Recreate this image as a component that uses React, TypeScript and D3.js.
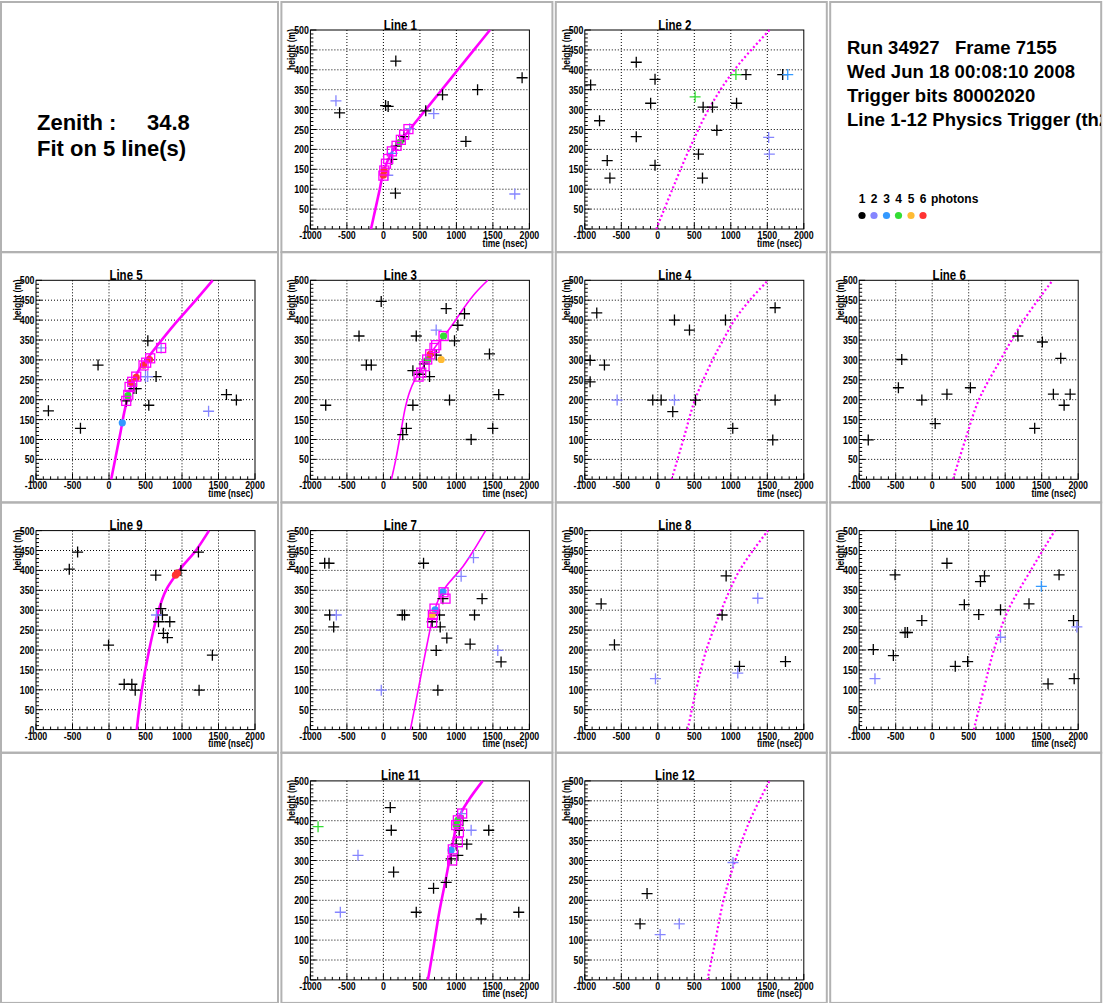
import React from 'react';
import * as d3 from 'd3';

type P = [number, number];
type Hit = [number, number, number];

const FONT = "'Liberation Sans', Arial, Helvetica, sans-serif";
const MAGENTA = '#ff00ff';
const PHOTON_COLORS = ['#000000', '#8585ff', '#3399ff', '#33dd33', '#ffbb33', '#ff3333'];
const PHOTON_LABELS = ['1', '2', '3', '4', '5', '6'];
const X_TICKS = [-1000, -500, 0, 500, 1000, 1500, 2000];
const Y_TICKS = [0, 50, 100, 150, 200, 250, 300, 350, 400, 450, 500];
const INFO_LINES = ['Run 34927   Frame 7155', 'Wed Jun 18 00:08:10 2008', 'Trigger bits 80002020', 'Line 1-12 Physics Trigger (th2'];
const ZENITH_LABEL = 'Zenith :';
const ZENITH_VALUE = '34.8';
const FIT_LABEL = 'Fit on 5 line(s)';

// ---- Line 1 ----
const line1Curve: P[] = [[-170, 0], [-110, 50], [-50, 100], [-5, 140], [55, 170], [140, 200], [250, 225], [360, 250], [470, 275], [580, 300], [800, 350], [1020, 400], [1240, 450], [1460, 500]];
const line1Hits: Hit[] = [[170, 422, 1], [-600, 292, 1], [30, 310, 1], [65, 308, 1], [580, 297, 1], [810, 337, 1], [1290, 350, 1], [1900, 380, 1], [1130, 220, 1], [165, 90, 1], [115, 175, 1], [175, 208, 1], [280, 232, 1], [-650, 322, 2], [690, 290, 2], [1800, 88, 2], [60, 135, 2], [360, 252, 2], [120, 190, 3]];
const line1Dots: Hit[] = [[0, 135, 6], [10, 147, 6], [225, 218, 4]];
const line1Squares: P[] = [[0, 134], [12, 147], [35, 164], [66, 176], [116, 195], [180, 209], [239, 224], [284, 237], [343, 251]];

// ---- Line 2 ----
const line2Curve: P[] = [[-20, 0], [200, 100], [430, 200], [695, 300], [1050, 400], [1530, 500]];
const line2Hits: Hit[] = [[-920, 362, 1], [-798, 272, 1], [-693, 172, 1], [-656, 128, 1], [-295, 419, 1], [-295, 232, 1], [-98, 316, 1], [-38, 376, 1], [-38, 160, 1], [557, 188, 1], [621, 306, 1], [749, 306, 1], [612, 128, 1], [809, 248, 1], [1079, 316, 1], [1208, 388, 1], [1711, 388, 1], [1519, 230, 2], [1528, 188, 2], [1780, 388, 3], [511, 332, 4], [1070, 388, 4]];

// ---- Line 3 ----
const line3Curve: P[] = [[110, 0], [170, 50], [240, 120], [300, 180], [360, 220], [430, 250], [520, 275], [600, 300], [700, 330], [830, 360], [960, 392], [1100, 430], [1260, 468], [1430, 500]];
const line3Hits: Hit[] = [[-30, 447, 1], [-334, 360, 1], [-234, 287, 1], [-166, 287, 1], [-790, 186, 1], [404, 186, 1], [450, 360, 1], [265, 112, 1], [315, 128, 1], [404, 273, 1], [495, 264, 1], [632, 258, 1], [860, 429, 1], [1111, 416, 1], [1020, 387, 1], [974, 348, 1], [906, 199, 1], [723, 312, 1], [1453, 315, 1], [1580, 213, 1], [1498, 128, 1], [1202, 100, 1], [560, 290, 1], [723, 375, 2]];
const line3Dots: Hit[] = [[609, 301, 4], [824, 360, 4], [641, 314, 6], [792, 301, 5]];
const line3Squares: P[] = [[482, 258], [518, 268], [564, 284], [600, 301], [641, 314], [700, 330], [723, 337], [824, 360]];

// ---- Line 4 ----
const line4Curve: P[] = [[190, 0], [350, 100], [510, 200], [750, 300], [895, 350], [1050, 400], [1260, 450], [1510, 500]];
const line4Hits: Hit[] = [[-836, 418, 1], [-927, 299, 1], [-927, 245, 1], [-731, 287, 1], [-69, 199, 1], [46, 199, 1], [205, 170, 1], [228, 400, 1], [434, 375, 1], [516, 199, 1], [927, 400, 1], [1027, 128, 1], [1607, 431, 1], [1607, 199, 1], [1575, 99, 1], [-557, 199, 2], [228, 199, 2]];

// ---- Line 5 ----
const line5Curve: P[] = [[30, 0], [95, 60], [160, 120], [205, 165], [250, 200], [320, 242], [420, 278], [530, 305], [700, 345], [900, 390], [1150, 442], [1420, 500]];
const line5Hits: Hit[] = [[-830, 172, 1], [-391, 128, 1], [-150, 287, 1], [532, 348, 1], [545, 186, 1], [236, 197, 1], [373, 228, 1], [340, 228, 1], [645, 258, 1], [1609, 213, 1], [1745, 199, 1], [500, 258, 2], [530, 258, 2], [1364, 171, 2], [714, 330, 2]];
const line5Dots: Hit[] = [[182, 142, 3], [259, 210, 4], [305, 243, 6], [373, 256, 6], [473, 287, 6], [555, 301, 6]];
const line5Squares: P[] = [[236, 197], [264, 212], [282, 232], [318, 245], [373, 258], [473, 286], [509, 293], [564, 304], [714, 330]];

// ---- Line 6 ----
const line6Curve: P[] = [[285, 0], [455, 100], [640, 200], [935, 300], [1255, 400], [1650, 500]];
const line6Hits: Hit[] = [[-876, 99, 1], [-463, 230, 1], [-417, 301, 1], [-142, 199, 1], [41, 140, 1], [202, 214, 1], [523, 230, 1], [1174, 360, 1], [1509, 345, 1], [1761, 304, 1], [1660, 214, 1], [1807, 186, 1], [1890, 214, 1], [1404, 128, 1]];

// ---- Line 7 ----
const line7Curve: P[] = [[370, 0], [450, 75], [540, 160], [610, 225], [680, 285], [750, 325], [860, 360], [975, 385], [1090, 410], [1225, 447], [1400, 500]];
const line7Hits: Hit[] = [[-804, 418, 1], [-745, 418, 1], [-736, 288, 1], [-681, 258, 1], [258, 288, 1], [290, 288, 1], [550, 418, 1], [668, 271, 1], [769, 288, 1], [778, 258, 1], [723, 199, 1], [869, 230, 1], [746, 99, 1], [815, 329, 1], [1188, 215, 1], [1248, 288, 1], [1352, 329, 1], [1612, 170, 1], [-645, 288, 2], [-29, 99, 2], [1065, 385, 2], [1234, 432, 2], [1567, 199, 2]];
const line7Dots: Hit[] = [[709, 301, 3], [815, 346, 3], [668, 288, 5]];
const line7Squares: P[] = [[668, 268], [678, 288], [700, 304], [824, 345], [851, 329]];

// ---- Line 8 ----
const line8Curve: P[] = [[410, 0], [525, 100], [665, 200], [870, 300], [1120, 400], [1510, 500]];
const line8Hits: Hit[] = [[-776, 316, 1], [-594, 213, 1], [936, 386, 1], [881, 288, 1], [1119, 159, 1], [1749, 171, 1], [-32, 128, 2], [1096, 142, 2], [1370, 330, 2]];

// ---- Line 9 ----
const line9Curve: P[] = [[380, 0], [450, 100], [550, 200], [680, 300], [780, 350], [915, 388], [1005, 410], [1190, 450], [1370, 500]];
const line9Hits: Hit[] = [[-544, 403, 1], [-430, 446, 1], [-6, 212, 1], [208, 114, 1], [313, 114, 1], [359, 99, 1], [641, 388, 1], [710, 304, 1], [732, 288, 1], [678, 271, 1], [833, 271, 1], [746, 242, 1], [801, 231, 1], [1416, 187, 1], [1234, 99, 1], [1225, 446, 1], [985, 400, 1], [650, 288, 2]];
const line9Dots: Hit[] = [[910, 388, 6], [935, 393, 6]];

// ---- Line 10 ----
const line10Curve: P[] = [[570, 0], [705, 100], [845, 200], [1040, 300], [1350, 400], [1680, 500]];
const line10Hits: Hit[] = [[-807, 201, 1], [-532, 186, 1], [-509, 389, 1], [-372, 244, 1], [-339, 244, 1], [-142, 274, 1], [202, 418, 1], [316, 159, 1], [440, 314, 1], [486, 171, 1], [638, 289, 1], [661, 372, 1], [716, 386, 1], [936, 301, 1], [1326, 316, 1], [1587, 115, 1], [1738, 389, 1], [1936, 274, 1], [1945, 128, 1], [-784, 128, 2], [936, 232, 2], [1982, 258, 2], [1495, 360, 3]];

// ---- Line 11 ----
const line11Curve: P[] = [[610, 0], [680, 75], [770, 175], [860, 258], [930, 325], [1000, 385], [1065, 420], [1180, 455], [1360, 500]];
const line11Hits: Hit[] = [[94, 433, 1], [108, 376, 1], [140, 271, 1], [450, 170, 1], [687, 230, 1], [860, 245, 1], [928, 304, 1], [1020, 313, 1], [997, 341, 1], [1143, 341, 1], [1038, 376, 1], [1443, 376, 1], [1339, 153, 1], [1854, 170, 1], [1088, 400, 1], [-348, 313, 2], [-590, 170, 2], [1202, 376, 2], [1070, 418, 2], [-895, 385, 4]];
const line11Dots: Hit[] = [[928, 326, 3], [997, 389, 4], [1020, 401, 4]];
const line11Squares: P[] = [[942, 300], [951, 328], [1020, 346], [1034, 371], [997, 389], [1020, 401], [1079, 418]];

// ---- Line 12 ----
const line12Curve: P[] = [[680, 0], [790, 100], [900, 200], [1060, 300], [1260, 400], [1530, 500]];
const line12Hits: Hit[] = [[-147, 217, 1], [-243, 141, 1], [32, 114, 2], [294, 141, 2], [1030, 295, 2]];

type Style = 'thick' | 'thin' | 'dotted';
interface PanelDef { title: string; col: number; row: number; curve: P[]; style: Style; hits: Hit[]; dots: Hit[]; squares: P[]; }

const PANELS: PanelDef[] = [
  { title: 'Line 1', col: 1, row: 0, curve: line1Curve, style: 'thick', hits: line1Hits, dots: line1Dots, squares: line1Squares },
  { title: 'Line 2', col: 2, row: 0, curve: line2Curve, style: 'dotted', hits: line2Hits, dots: [], squares: [] },
  { title: 'Line 5', col: 0, row: 1, curve: line5Curve, style: 'thick', hits: line5Hits, dots: line5Dots, squares: line5Squares },
  { title: 'Line 3', col: 1, row: 1, curve: line3Curve, style: 'thin', hits: line3Hits, dots: line3Dots, squares: line3Squares },
  { title: 'Line 4', col: 2, row: 1, curve: line4Curve, style: 'dotted', hits: line4Hits, dots: [], squares: [] },
  { title: 'Line 6', col: 3, row: 1, curve: line6Curve, style: 'dotted', hits: line6Hits, dots: [], squares: [] },
  { title: 'Line 9', col: 0, row: 2, curve: line9Curve, style: 'thick', hits: line9Hits, dots: line9Dots, squares: [] },
  { title: 'Line 7', col: 1, row: 2, curve: line7Curve, style: 'thin', hits: line7Hits, dots: line7Dots, squares: line7Squares },
  { title: 'Line 8', col: 2, row: 2, curve: line8Curve, style: 'dotted', hits: line8Hits, dots: [], squares: [] },
  { title: 'Line 10', col: 3, row: 2, curve: line10Curve, style: 'dotted', hits: line10Hits, dots: [], squares: [] },
  { title: 'Line 11', col: 1, row: 3, curve: line11Curve, style: 'thick', hits: line11Hits, dots: line11Dots, squares: line11Squares },
  { title: 'Line 12', col: 2, row: 3, curve: line12Curve, style: 'dotted', hits: line12Hits, dots: [], squares: [] },
];

const FW = 219;
const FH = 199;
const frameLeft = (col: number) => 36 + 274.4 * col;
const frameTop = (row: number) => 30 + 250.3 * row;

function PadBorder({ col, row }: { col: number; row: number }) {
  const fl = frameLeft(col);
  const ft = frameTop(row);
  const left = col === 0 ? 1 : fl - 29;
  const right = fl + FW + 23;
  const top = ft - 28;
  const bottom = ft + FH + 23;
  return <rect x={left} y={top} width={right - left} height={bottom - top} fill="none" stroke="#b2b2b2" strokeWidth={2} />;
}

function Panel({ p }: { p: PanelDef }) {
  const fl = frameLeft(p.col);
  const ft = frameTop(p.row);
  const x = d3.scaleLinear().domain([-1000, 2000]).range([fl, fl + FW]);
  const y = d3.scaleLinear().domain([0, 500]).range([ft + FH, ft]);
  const line = d3.line<P>().x(d => x(d[0])).y(d => y(d[1])).curve(d3.curveCatmullRom.alpha(0.5));
  const xMinor = d3.range(-1000, 2001, 100);
  const yMinor = d3.range(0, 501, 10);
  const sx = 0.8;
  let curveProps: any = { stroke: MAGENTA, fill: 'none' };
  if (p.style === 'thick') curveProps = { ...curveProps, strokeWidth: 2.6 };
  else if (p.style === 'thin') curveProps = { ...curveProps, strokeWidth: 1.6 };
  else curveProps = { ...curveProps, strokeWidth: 2.2, strokeDasharray: '2 2.4' };
  return (
    <g>
      {/* grid */}
      {X_TICKS.slice(1, -1).map(t => (
        <line key={'gx' + t} x1={x(t)} x2={x(t)} y1={ft} y2={ft + FH} stroke="#000" strokeWidth={1} strokeDasharray="1 2" />
      ))}
      {Y_TICKS.slice(1, -1).map(t => (
        <line key={'gy' + t} x1={fl} x2={fl + FW} y1={y(t)} y2={y(t)} stroke="#000" strokeWidth={1} strokeDasharray="1 2" />
      ))}
      {/* ticks */}
      {xMinor.map(t => (
        <line key={'tx' + t} x1={x(t)} x2={x(t)} y1={ft + FH} y2={ft + FH - (t % 500 === 0 ? 6 : 3)} stroke="#000" strokeWidth={1} />
      ))}
      {yMinor.map(t => (
        <line key={'ty' + t} x1={fl} x2={fl + (t % 50 === 0 ? 6 : 3)} y1={y(t)} y2={y(t)} stroke="#000" strokeWidth={1} />
      ))}
      {/* frame */}
      <rect x={fl} y={ft} width={FW} height={FH} fill="none" stroke="#000" strokeWidth={1} />
      {/* tick labels */}
      {X_TICKS.map(t => (
        <text key={'lx' + t} transform={`translate(${x(t)},${ft + FH + 10}) scale(${sx},1)`} textAnchor="middle" fontSize={11} fontWeight="bold" fontFamily={FONT}>{t}</text>
      ))}
      {Y_TICKS.map(t => (
        <text key={'ly' + t} transform={`translate(${fl - 1.5},${y(t) + 4}) scale(${sx},1)`} textAnchor="end" fontSize={11} fontWeight="bold" fontFamily={FONT}>{t}</text>
      ))}
      <text transform={`translate(${fl + FW - 2},${ft + FH + 17.5}) scale(0.85,1)`} textAnchor="end" fontSize={10} fontWeight="bold" fontFamily={FONT}>time (nsec)</text>
      <text transform={`translate(${fl - 15},${ft - 1}) rotate(-90) scale(0.85,1)`} textAnchor="end" fontSize={10} fontWeight="bold" fontFamily={FONT}>height (m)</text>
      <text transform={`translate(${fl + 90},${ft - 0.5}) scale(0.82,1)`} textAnchor="middle" fontSize={14} fontWeight="bold" fontFamily={FONT}>{p.title}</text>
      {/* fit curve */}
      <path d={line(p.curve) || ''} {...curveProps} />
      {/* hits */}
      {p.hits.map((h, i) => {
        const cx = x(h[0]);
        const cy = y(h[1]);
        return <path key={'h' + i} d={`M${cx - 5.5},${cy}H${cx + 5.5}M${cx},${cy - 5.5}V${cy + 5.5}`} stroke={PHOTON_COLORS[h[2] - 1]} strokeWidth={1.3} fill="none" />;
      })}
      {p.dots.map((h, i) => (
        <circle key={'d' + i} cx={x(h[0])} cy={y(h[1])} r={3.6} fill={PHOTON_COLORS[h[2] - 1]} />
      ))}
      {p.squares.map((s, i) => (
        <rect key={'s' + i} x={x(s[0]) - 4.5} y={y(s[1]) - 4.5} width={9} height={9} fill="none" stroke={MAGENTA} strokeWidth={1.3} />
      ))}
    </g>
  );
}

export default function App() {
  const pads: [number, number][] = [];
  for (let r = 0; r < 4; r++) for (let c = 0; c < 4; c++) pads.push([c, r]);
  const legendX = [862, 874, 886.5, 898.5, 911, 923];
  return (
    <svg width={1109} height={1003} style={{ display: 'block', position: 'absolute', left: 0, top: 0, background: '#fff' }}>
      <defs>
        <clipPath id="infoClip"><rect x={832} y={0} width={269} height={250} /></clipPath>
      </defs>
      <rect x={0} y={0} width={1109} height={1003} fill="#fff" />
      {pads.map(([c, r]) => <PadBorder key={`pad${c}-${r}`} col={c} row={r} />)}
      {PANELS.map(p => <Panel key={p.title} p={p} />)}
      {/* zenith pad */}
      <g fontFamily={FONT} fontWeight="bold" fontSize={22}>
        <text x={37} y={130}>{ZENITH_LABEL}</text>
        <text x={147} y={130}>{ZENITH_VALUE}</text>
        <text x={37} y={156}>{FIT_LABEL}</text>
      </g>
      {/* info pad */}
      <g clipPath="url(#infoClip)" fontFamily={FONT} fontWeight="bold" fontSize={18.5}>
        {INFO_LINES.map((s, i) => (
          <text key={s} x={847} y={54 + 24 * i} style={{ whiteSpace: 'pre' }}>{s}</text>
        ))}
      </g>
      <g fontFamily={FONT} fontWeight="bold" fontSize={12}>
        {PHOTON_LABELS.map((l, i) => (
          <text key={'pl' + l} x={legendX[i]} y={203} textAnchor="middle">{l}</text>
        ))}
        <text x={931} y={203}>photons</text>
        {PHOTON_COLORS.map((c, i) => (
          <circle key={'pc' + i} cx={legendX[i]} cy={215.5} r={3.6} fill={c} />
        ))}
      </g>
    </svg>
  );
}
